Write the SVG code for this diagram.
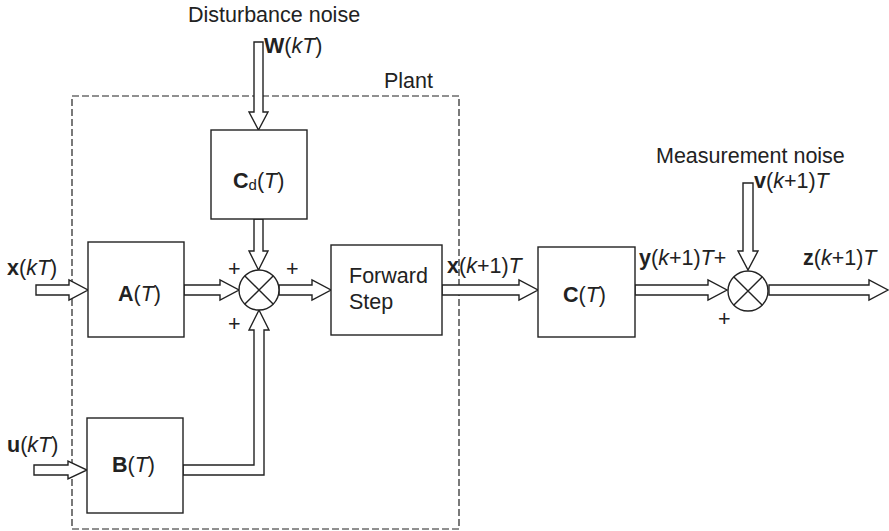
<svg xmlns="http://www.w3.org/2000/svg" width="889" height="531" viewBox="0 0 889 531">
<style>
.box{fill:#fff;stroke:#222;stroke-width:1.4}
.arr{fill:#fff;stroke:#222;stroke-width:1.4;stroke-linejoin:miter}
.sum{fill:#fff;stroke:#222;stroke-width:1.4}
.t{font-family:"Liberation Sans",Arial,sans-serif;font-size:21.5px;fill:#222}
.b{font-weight:bold}
.i{font-style:italic}
</style>
<rect width="889" height="531" fill="#fff"/>
<g id="plant">
<rect x="72" y="96" width="387" height="433" fill="none" stroke="#222" stroke-width="1.2" stroke-dasharray="7,3"/>
<text class="t" x="384" y="88">Plant</text>
</g>
<g id="connectors">
<polygon class="arr" points="36,285 69,285 69,280 88,290 69,300 69,295 36,295"/>
<polygon class="arr" points="184,285 220,285 220,280 239,290 220,300 220,295 184,295"/>
<polygon class="arr" points="279,285 312,285 312,280 331,290 312,300 312,295 279,295"/>
<polygon class="arr" points="442,285 519,285 519,280 538,290 519,300 519,295 442,295"/>
<polygon class="arr" points="635,285 708,285 708,280 727,290 708,300 708,295 635,295"/>
<polygon class="arr" points="769,285 869,285 869,280 888,290 869,300 869,295 769,295"/>
<polygon class="arr" points="34,465 68,465 68,461 87,470 68,479 68,475 34,475"/>
<polygon class="arr" points="254,42 263,42 263,112 268,112 258.5,130 249,112 254,112"/>
<polygon class="arr" points="254,219 263,219 263,251 268,251 258.5,270 249,251 254,251"/>
<polygon class="arr" points="743,183 753,183 753,251 758,251 748,270 738,251 743,251"/>
<polygon class="arr" points="183,465 254,465 254,330 249,330 259,310 269,330 264,330 264,475 183,475"/>
</g>
<g id="input-x">
<text class="t" x="7" y="275"><tspan class="b">x</tspan>(<tspan class="i">kT</tspan>)</text>
</g>
<g id="input-u">
<text class="t" x="7" y="452"><tspan class="b">u</tspan>(<tspan class="i">kT</tspan>)</text>
</g>
<g id="disturbance">
<text class="t" x="188" y="22">Disturbance noise</text>
<text class="t" x="264" y="53"><tspan class="b">W</tspan>(<tspan class="i">kT</tspan>)</text>
</g>
<g id="block-A">
<rect class="box" x="88" y="242" width="96" height="95"/>
<text class="t" x="118" y="301"><tspan class="b">A</tspan>(<tspan class="i">T</tspan>)</text>
</g>
<g id="block-B">
<rect class="box" x="87" y="418" width="96" height="95"/>
<text class="t" x="112" y="472"><tspan class="b">B</tspan>(<tspan class="i">T</tspan>)</text>
</g>
<g id="block-Cd">
<rect class="box" x="211" y="130" width="96" height="89"/>
<text class="t" x="233" y="188"><tspan class="b">C</tspan><tspan font-size="15" dy="2">d</tspan><tspan dy="-2">(</tspan><tspan class="i">T</tspan>)</text>
</g>
<g id="sum1">
<circle class="sum" cx="259" cy="290" r="20"/>
<path d="M244.9,275.9 L273.1,304.1 M273.1,275.9 L244.9,304.1" stroke="#222" stroke-width="1.4"/>
<text class="t" x="228" y="276">+</text>
<text class="t" x="286" y="276">+</text>
<text class="t" x="228" y="331">+</text>
</g>
<g id="forward-step">
<rect class="box" x="331" y="245" width="111" height="90"/>
<text class="t" x="349" y="283">Forward</text>
<text class="t" x="349" y="309">Step</text>
</g>
<g id="state-label">
<text class="t" x="447" y="273"><tspan class="b">x</tspan>(<tspan class="i">k</tspan>+1)<tspan class="i">T</tspan></text>
</g>
<g id="block-C">
<rect class="box" x="538" y="247" width="97" height="90"/>
<text class="t" x="563" y="302"><tspan class="b">C</tspan>(<tspan class="i">T</tspan>)</text>
</g>
<g id="measurement">
<text class="t" x="656" y="163">Measurement noise</text>
<text class="t" x="754" y="188"><tspan class="b">v</tspan>(<tspan class="i">k</tspan>+1)<tspan class="i">T</tspan></text>
</g>
<g id="sum2">
<circle class="sum" cx="748" cy="291" r="20"/>
<path d="M733.9,276.9 L762.1,305.1 M762.1,276.9 L733.9,305.1" stroke="#222" stroke-width="1.4"/>
<text class="t" x="639" y="265"><tspan class="b">y</tspan>(<tspan class="i">k</tspan>+1)<tspan class="i">T</tspan>+</text>
<text class="t" x="718" y="326">+</text>
</g>
<g id="output-z">
<text class="t" x="803" y="265"><tspan class="b">z</tspan>(<tspan class="i">k</tspan>+1)<tspan class="i">T</tspan></text>
</g>
</svg>
